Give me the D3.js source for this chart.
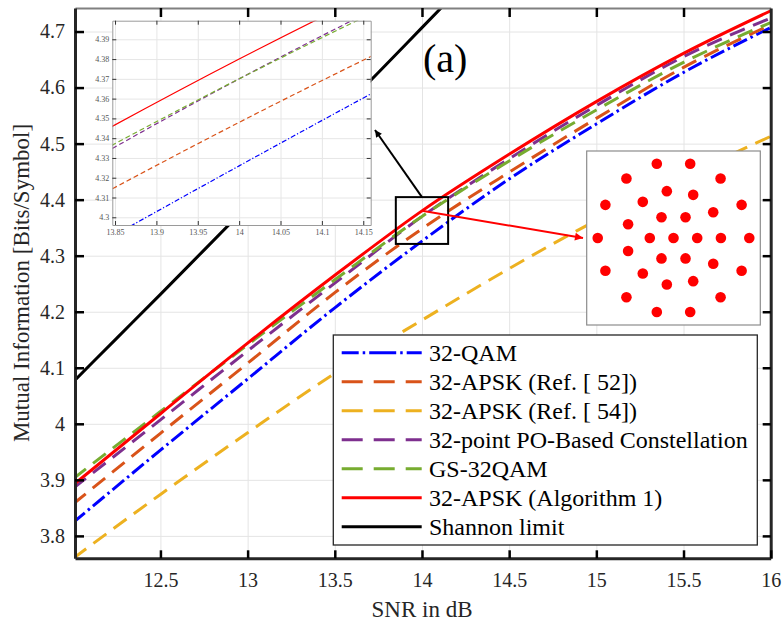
<!DOCTYPE html>
<html>
<head>
<meta charset="utf-8">
<script src="https://cdn.jsdelivr.net/npm/d3@7"></script>
<style>
body { margin: 0; background: #fff; }
text { font-family: "Liberation Serif", "Times New Roman", serif; }
</style>
</head>
<body>
<div id="chart"></div>
<script>
// SNR grid (dB) and mutual information curves
const snr = [12, 12.5, 13, 13.5, 14, 14.5, 15, 15.5, 16];
const qam32 = [3.824, 3.953, 4.080, 4.207, 4.326, 4.437, 4.535, 4.627, 4.707];
const apskRef52 = [3.857, 3.983, 4.108, 4.234, 4.348, 4.449, 4.545, 4.636, 4.712];
const apskRef54 = [3.760, 3.874, 3.984, 4.090, 4.185, 4.277, 4.363, 4.440, 4.513];
const poBased = [3.885, 4.007, 4.130, 4.251, 4.370, 4.473, 4.568, 4.655, 4.724];
const gs32qam = [3.902, 4.022, 4.141, 4.257, 4.370, 4.469, 4.560, 4.645, 4.716];
const apskAlg1 = [3.891, 4.018, 4.144, 4.265, 4.380, 4.481, 4.575, 4.661, 4.737];
const shannonSnr = [12, 12.25, 12.5, 12.75, 13, 13.25, 13.5, 13.75, 14, 14.25];
const shannon = [4.075, 4.153, 4.231, 4.310, 4.389, 4.468, 4.548, 4.627, 4.707, 4.787];

const labels = ["32-QAM", "32-APSK (Ref. [ 52])", "32-APSK (Ref. [ 54])",
  "32-point PO-Based Constellation", "GS-32QAM", "32-APSK (Algorithm 1)", "Shannon limit"];
const colors = ["#0000ff", "#d95319", "#edb120", "#7e2f8e", "#77ac30", "#ff0000", "#000000"];
const styles = ["dashdot", "dash", "dash", "dash", "dash", "solid", "solid"];

const xTicks = [12.5, 13, 13.5, 14, 14.5, 15, 15.5, 16];
const yTicks = [3.8, 3.9, 4, 4.1, 4.2, 4.3, 4.4, 4.5, 4.6, 4.7];
const insetXTicks = [13.85, 13.9, 13.95, 14, 14.05, 14.1, 14.15];
const insetYTicks = [4.3, 4.31, 4.32, 4.33, 4.34, 4.35, 4.36, 4.37, 4.38, 4.39];

// 32-APSK (Algorithm 1) constellation points
const constI = [-0.50, 0.50, -1.41, 1.41, -0.20, 0.59, -0.92, -2.04, 2.04, 1.19, -0.36, 0.36, -1.36,
  -2.27, -0.71, 0, 0.71, 1.42, 2.27, -1.36, -0.36, 0.36, 1.19, -2.04, 2.04, -0.92, -0.20, 0.59,
  -1.41, 1.41, -0.50, 0.50];
const constQ = [2.22, 2.22, 1.78, 1.78, 1.40, 1.29, 1.08, 0.99, 0.99, 0.77, 0.62, 0.62, 0.41,
  0, 0, 0, 0, 0, 0, -0.39, -0.61, -0.61, -0.77, -0.98, -0.98, -1.06, -1.39, -1.29,
  -1.77, -1.77, -2.21, -2.21];

const series = [qam32, apskRef52, apskRef54, poBased, gs32qam, apskAlg1, shannon];
const seriesX = [snr, snr, snr, snr, snr, snr, shannonSnr];

const svg = d3.select("#chart").append("svg").attr("width", 784).attr("height", 625);

const L = 75, R = 770.7, T = 8, B = 558.3;
const x = d3.scaleLinear().domain([12.01, 16]).range([L, R]);
const y = d3.scaleLinear().domain([3.76, 4.742]).range([B, T]);

const defs = svg.append("defs");
defs.append("clipPath").attr("id", "clipMain")
  .append("rect").attr("x", L).attr("y", T).attr("width", R - L).attr("height", B - T);

function marker(id, color, w, h) {
  defs.append("marker").attr("id", id)
    .attr("viewBox", "0 0 10 10").attr("refX", 10).attr("refY", 5)
    .attr("markerUnits", "userSpaceOnUse")
    .attr("markerWidth", w).attr("markerHeight", h).attr("orient", "auto")
    .append("path").attr("d", "M0,0 L10,5 L0,10 z").attr("fill", color);
}
marker("arrBlack", "#000", 8, 7);
marker("arrRed", "#ff0000", 10, 8);

// grid
svg.append("g").attr("transform", `translate(0,${B})`)
  .call(d3.axisBottom(x).tickValues(xTicks).tickSize(-(B - T)).tickFormat(""))
  .call(g => g.select(".domain").remove())
  .selectAll("line").attr("stroke", "#e4e4e4").attr("stroke-width", 1);
svg.append("g").attr("transform", `translate(${L},0)`)
  .call(d3.axisLeft(y).tickValues(yTicks).tickSize(-(R - L)).tickFormat(""))
  .call(g => g.select(".domain").remove())
  .selectAll("line").attr("stroke", "#e4e4e4").attr("stroke-width", 1);

const mainDash = { dash: "16,9", dashdot: "15,4,2.5,4", solid: null };

const line = d3.line().x(d => x(d[0])).y(d => y(d[1])).curve(d3.curveMonotoneX);
const plot = svg.append("g").attr("clip-path", "url(#clipMain)");
series.forEach((vals, i) => {
  plot.append("path")
    .datum(seriesX[i].map((s, j) => [s, vals[j]]))
    .attr("d", line)
    .attr("fill", "none")
    .attr("stroke", colors[i])
    .attr("stroke-width", 3)
    .attr("stroke-dasharray", mainDash[styles[i]]);
});

// zoom box + arrows
const boxX = [13.85, 14.15], boxY = [4.321, 4.4045];
svg.append("rect")
  .attr("x", x(boxX[0])).attr("y", y(boxY[1]))
  .attr("width", x(boxX[1]) - x(boxX[0])).attr("height", y(boxY[0]) - y(boxY[1]))
  .attr("fill", "none").attr("stroke", "#000").attr("stroke-width", 2);
svg.append("line")
  .attr("x1", x(14)).attr("y1", y(boxY[1]))
  .attr("x2", 375).attr("y2", 130)
  .attr("stroke", "#000").attr("stroke-width", 2).attr("marker-end", "url(#arrBlack)");
svg.append("line")
  .attr("x1", x(14)).attr("y1", y(4.38))
  .attr("x2", 583).attr("y2", 238)
  .attr("stroke", "#ff0000").attr("stroke-width", 2).attr("marker-end", "url(#arrRed)");

// inset zoom panel
const iL = 112.3, iR = 370.7, iT = 20.7, iB = 225;
const xi = d3.scaleLinear().domain([13.8467, 14.159]).range([iL, iR]);
const yi = d3.scaleLinear().domain([4.2961, 4.3994]).range([iB, iT]);
const inset = svg.append("g");
inset.append("rect").attr("x", iL).attr("y", iT).attr("width", iR - iL).attr("height", iB - iT)
  .attr("fill", "#fff");
defs.append("clipPath").attr("id", "clipInset")
  .append("rect").attr("x", iL).attr("y", iT).attr("width", iR - iL).attr("height", iB - iT);

inset.append("g").attr("transform", `translate(0,${iB})`)
  .call(d3.axisBottom(xi).tickValues(insetXTicks).tickSize(-(iB - iT)).tickFormat(""))
  .call(g => g.select(".domain").remove())
  .selectAll("line").attr("stroke", "#e6e6e6");
inset.append("g").attr("transform", `translate(${iL},0)`)
  .call(d3.axisLeft(yi).tickValues(insetYTicks).tickSize(-(iR - iL)).tickFormat(""))
  .call(g => g.select(".domain").remove())
  .selectAll("line").attr("stroke", "#e6e6e6");

const insetDash = { dash: "5,3", dashdot: "5,2,1.2,2", solid: null };
const lineI = d3.line().x(d => xi(d[0])).y(d => yi(d[1])).curve(d3.curveMonotoneX);
const insetPlot = inset.append("g").attr("clip-path", "url(#clipInset)");
[0, 1, 3, 4, 5].forEach(i => {
  insetPlot.append("path")
    .datum(seriesX[i].map((s, j) => [s, series[i][j]]))
    .attr("d", lineI)
    .attr("fill", "none")
    .attr("stroke", colors[i])
    .attr("stroke-width", 1.2)
    .attr("stroke-dasharray", insetDash[styles[i]]);
});

function styleInsetAxis(g) {
  g.select(".domain").attr("stroke", "#9a9a9a").attr("stroke-width", 1);
  g.selectAll(".tick line").attr("stroke", "#333").attr("stroke-width", 1);
  g.selectAll("text").attr("font-size", 8).attr("fill", "#555")
    .style("font-family", '"Liberation Serif", serif');
}
inset.append("g").attr("transform", `translate(0,${iB})`)
  .call(d3.axisBottom(xi).tickValues(insetXTicks).tickSize(-4).tickPadding(4)
    .tickFormat(d3.format("")).tickSizeOuter(0))
  .call(styleInsetAxis);
inset.append("g").attr("transform", `translate(${iL},0)`)
  .call(d3.axisLeft(yi).tickValues(insetYTicks).tickSize(-4).tickPadding(3)
    .tickFormat(d3.format("")).tickSizeOuter(0))
  .call(styleInsetAxis);
inset.append("g").attr("transform", `translate(0,${iT})`)
  .call(d3.axisTop(xi).tickValues(insetXTicks).tickSize(-4).tickFormat("").tickSizeOuter(0))
  .call(styleInsetAxis);
inset.append("g").attr("transform", `translate(${iR},0)`)
  .call(d3.axisRight(yi).tickValues(insetYTicks).tickSize(-4).tickFormat("").tickSizeOuter(0))
  .call(styleInsetAxis);

// constellation panel
const cL = 586.7, cR = 760.3, cT = 151, cB = 325;
const xc = d3.scaleLinear().domain([-2.6, 2.6]).range([cL, cR]);
const yc = d3.scaleLinear().domain([-2.6, 2.6]).range([cB, cT]);
svg.append("rect").attr("x", cL).attr("y", cT).attr("width", cR - cL).attr("height", cB - cT)
  .attr("fill", "#fff").attr("stroke", "#8c8c8c").attr("stroke-width", 1.2);
svg.append("g").selectAll("circle")
  .data(constI.map((v, i) => [v, constQ[i]]))
  .join("circle")
  .attr("cx", d => xc(d[0])).attr("cy", d => yc(d[1])).attr("r", 5.3)
  .attr("fill", "#ff0000");

// label (a)
svg.append("text").attr("x", 423).attr("y", 72).attr("font-size", 40).attr("fill", "#000").text("(a)");

// legend
const lgL = 333.3, lgT = 335, lgW = 424, lgH = 210;
const legend = svg.append("g");
legend.append("rect").attr("x", lgL).attr("y", lgT).attr("width", lgW).attr("height", lgH)
  .attr("fill", "#fff").attr("stroke", "#262626").attr("stroke-width", 1.3);
const legendDash = { dash: "21,11", dashdot: "27,4,2.5,4", solid: null };
labels.forEach((lab, i) => {
  const cy = 352.7 + i * 29;
  legend.append("line")
    .attr("x1", 341.7).attr("x2", 421.7).attr("y1", cy).attr("y2", cy)
    .attr("stroke", colors[i]).attr("stroke-width", 3)
    .attr("stroke-dasharray", legendDash[styles[i]])
    .attr("stroke-dashoffset", styles[i] === "dashdot" ? 10 : 0);
  legend.append("text").attr("x", 429).attr("y", cy + 8)
    .attr("font-size", 24).attr("fill", "#000").text(lab);
});

// axes
function styleMainAxis(g, color, width) {
  g.select(".domain").attr("stroke", color).attr("stroke-width", width);
  g.selectAll(".tick line").attr("stroke", "#000").attr("stroke-width", 2.5);
  g.selectAll("text").attr("font-size", 20).attr("fill", "#262626")
    .style("font-family", '"Liberation Serif", serif');
}
svg.append("g").attr("transform", `translate(0,${T})`)
  .call(d3.axisTop(x).tickValues(xTicks.slice(0, -1)).tickSize(-9).tickSizeOuter(0).tickFormat(""))
  .call(g => styleMainAxis(g, "#808080", 2));
svg.append("g").attr("transform", `translate(${R},0)`)
  .call(d3.axisRight(y).tickValues(yTicks).tickSize(-8).tickSizeOuter(0).tickFormat(""))
  .call(g => styleMainAxis(g, "#262626", 3));
svg.append("g").attr("transform", `translate(0,${B})`)
  .call(d3.axisBottom(x).tickValues(xTicks).tickSize(-8).tickSizeOuter(0).tickPadding(14.5)
    .tickFormat(d3.format("")))
  .call(g => styleMainAxis(g, "#262626", 3));
svg.append("g").attr("transform", `translate(${L},0)`)
  .call(d3.axisLeft(y).tickValues(yTicks).tickSize(-9).tickSizeOuter(0).tickPadding(10)
    .tickFormat(d3.format("")))
  .call(g => styleMainAxis(g, "#262626", 3));

// axis titles
svg.append("text").attr("x", 422).attr("y", 617).attr("text-anchor", "middle")
  .attr("font-size", 23).attr("fill", "#262626").text("SNR in dB");
svg.append("text").attr("transform", "translate(29,283) rotate(-90)").attr("text-anchor", "middle")
  .attr("font-size", 23).attr("fill", "#262626").text("Mutual Information [Bits/Symbol]");
</script>
</body>
</html>
